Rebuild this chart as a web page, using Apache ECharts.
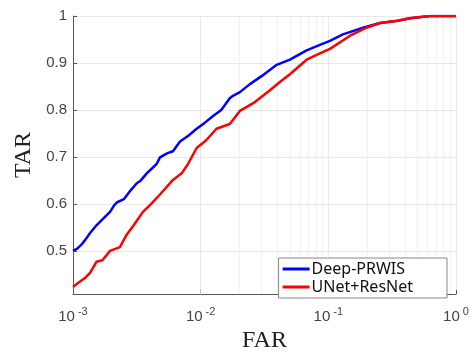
<!DOCTYPE html>
<html lang="en">
<head>
<meta charset="UTF-8">
<style>
  html, body { height: 100%; margin: 0; background: #fff; }
</style>
</head>
<body>
<div id="chart" style="width:475px;height:358px;"></div>
<script src="https://cdn.jsdelivr.net/npm/echarts@6/dist/echarts.min.js"></script>
<script>
    var blueX = [0.001, 0.00108, 0.00118, 0.00126, 0.00136, 0.0015, 0.0017, 0.00195, 0.0021, 0.0022, 0.0025, 0.00285, 0.00316, 0.0034, 0.00378, 0.00452, 0.0048, 0.0055, 0.00607, 0.00689, 0.008, 0.0093, 0.0108, 0.0125, 0.0145, 0.0169, 0.0179, 0.0203, 0.0243, 0.03, 0.0394, 0.05, 0.0676, 0.085, 0.103, 0.13, 0.187, 0.254, 0.35, 0.435, 0.625, 0.8, 1];
    var blueY = [0.50, 0.505, 0.515, 0.525, 0.538, 0.552, 0.567, 0.583, 0.597, 0.603, 0.610, 0.630, 0.644, 0.650, 0.665, 0.685, 0.699, 0.708, 0.712, 0.733, 0.745, 0.760, 0.773, 0.787, 0.800, 0.825, 0.830, 0.838, 0.855, 0.872, 0.896, 0.907, 0.927, 0.938, 0.947, 0.961, 0.975, 0.985, 0.990, 0.995, 1.0, 1.0, 1.0];
    var redX = [0.001, 0.0011, 0.00125, 0.00136, 0.00153, 0.0017, 0.00195, 0.00233, 0.00264, 0.003, 0.00353, 0.0041, 0.0048, 0.00607, 0.0071, 0.00796, 0.0093, 0.011, 0.0133, 0.0169, 0.0203, 0.026, 0.0349, 0.042, 0.05, 0.0676, 0.085, 0.103, 0.148, 0.199, 0.254, 0.35, 0.435, 0.625, 0.8, 1];
    var redY = [0.423, 0.432, 0.443, 0.453, 0.477, 0.480, 0.500, 0.508, 0.535, 0.555, 0.583, 0.600, 0.620, 0.651, 0.665, 0.685, 0.719, 0.735, 0.760, 0.770, 0.798, 0.815, 0.842, 0.860, 0.876, 0.907, 0.920, 0.930, 0.958, 0.975, 0.985, 0.990, 0.995, 1.0, 1.0, 1.0];
    var yTicks = [0.5, 0.6, 0.7, 0.8, 0.9, 1];
    var names = ['Deep-PRWIS', 'UNet+ResNet'];

    // dotted minor grid at 2..9 in each decade
    var minorX = [];
    [0.001, 0.01, 0.1].forEach(function (d) {
        for (var k = 2; k <= 9; k++) minorX.push({ xAxis: +(k * d).toPrecision(3) });
    });

    function zip(xs, ys) {
        return xs.map(function (x, i) { return [x, ys[i]]; });
    }

    var myChart = echarts.init(document.getElementById('chart'));
    myChart.setOption({
        animation: false,
        grid: { left: 73, right: 19, top: 16, bottom: 53 },
        legend: {
            data: names,
            orient: 'vertical',
            right: 28,
            bottom: 60,
            backgroundColor: '#fff',
            borderColor: '#888',
            borderWidth: 1,
            borderRadius: 0,
            padding: [3, 34, 3, 4],
            itemGap: 2,
            itemWidth: 27,
            itemHeight: 3,
            icon: 'rect',
            textStyle: { fontFamily: 'Noto Sans', fontSize: 16, color: '#111', padding: [0, 0, 0, -3] }
        },
        xAxis: {
            type: 'log',
            logBase: 10,
            min: 0.001,
            max: 1,
            name: 'FAR',
            nameLocation: 'middle',
            nameGap: 29,
            nameTextStyle: { fontFamily: 'Liberation Serif', fontSize: 24, color: '#222' },
            axisLine: { lineStyle: { color: '#555' } },
            axisTick: { inside: true, length: 4, lineStyle: { color: '#555' } },
            splitLine: { show: true, lineStyle: { color: '#e8e8e8' } },
            axisLabel: {
                margin: 12,
                formatter: function (v) {
                    return '{b|10}{s|' + Math.round(Math.log10(v)) + '}';
                },
                rich: {
                    b: { fontFamily: 'Liberation Sans', fontSize: 15, color: '#444' },
                    s: { fontFamily: 'Liberation Sans', fontSize: 11, color: '#444', padding: [0, 0, 10, 3] }
                }
            }
        },
        yAxis: {
            type: 'value',
            min: 0.408,
            max: 1,
            name: 'TAR',
            nameLocation: 'middle',
            nameGap: 33,
            nameTextStyle: { fontFamily: 'Liberation Serif', fontSize: 24, color: '#222' },
            axisLine: { show: true, lineStyle: { color: '#555' } },
            axisTick: { show: true, inside: true, length: 4, customValues: yTicks, lineStyle: { color: '#555' } },
            splitLine: { show: true, lineStyle: { color: '#e8e8e8' } },
            axisLabel: {
                customValues: yTicks,
                margin: 6,
                fontFamily: 'Liberation Sans',
                fontSize: 15,
                color: '#444',
                formatter: function (v) { return String(+v.toFixed(1)); }
            }
        },
        series: [
            {
                name: names[0],
                type: 'line',
                data: zip(blueX, blueY),
                showSymbol: false,
                color: '#0000ff',
                lineStyle: { width: 2.5 },
                z: 3,
                markLine: {
                    silent: true,
                    symbol: 'none',
                    label: { show: false },
                    lineStyle: { color: '#e4e4e4', type: 'dotted', width: 1 },
                    data: minorX,
                    z: 1
                }
            },
            {
                name: names[1],
                type: 'line',
                data: zip(redX, redY),
                showSymbol: false,
                color: '#ff0000',
                lineStyle: { width: 2.5 },
                z: 4
            }
        ]
    });
</script>
</body>
</html>
